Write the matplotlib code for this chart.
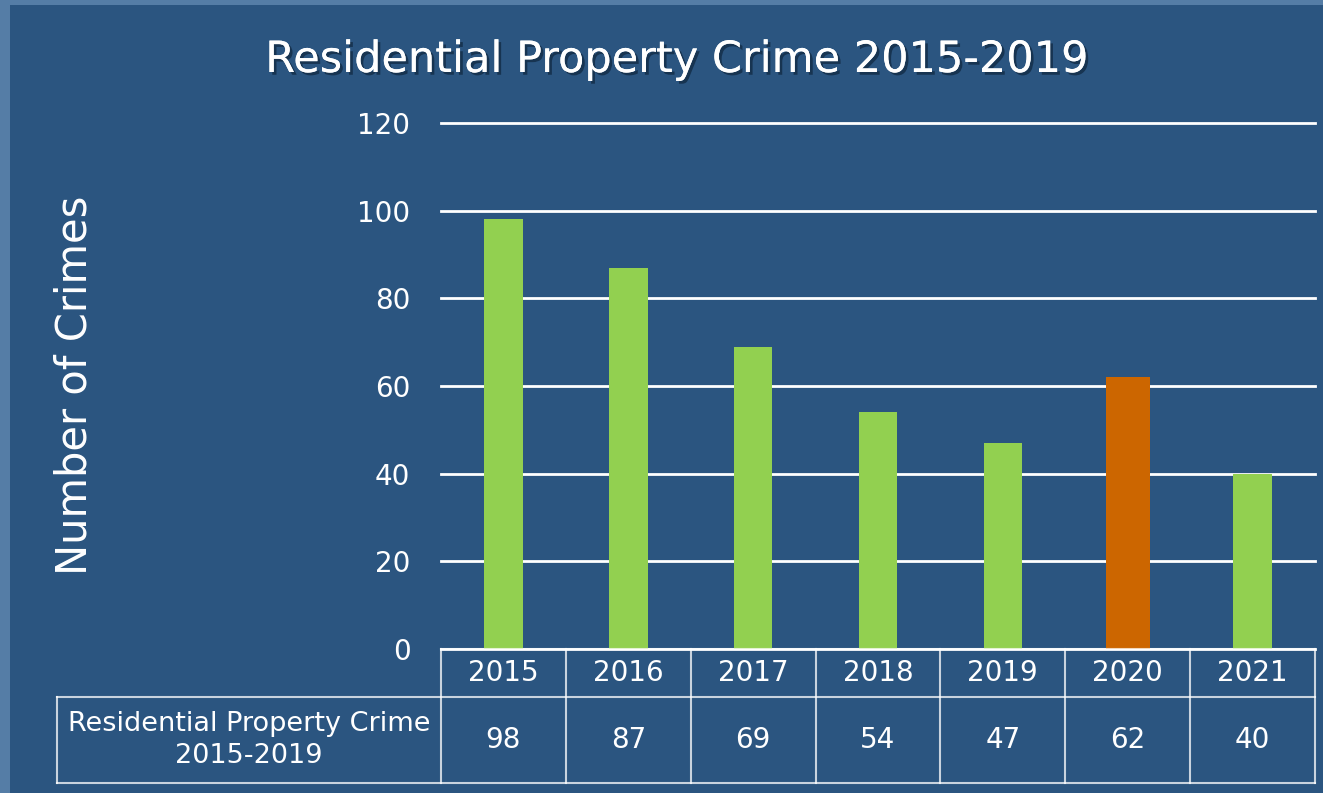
import matplotlib
matplotlib.use("Agg")
import matplotlib.pyplot as plt
import matplotlib.patheffects as pe
from matplotlib.patches import Rectangle

# Crime counts per year
years = ["2015", "2016", "2017", "2018", "2019", "2020", "2021"]
crimes = [98, 87, 69, 54, 47, 62, 40]
highlight_year = "2020"
series_name = "Residential Property Crime\n2015-2019"
title = "Residential Property Crime 2015-2019"
y_ticks = [0, 20, 40, 60, 80, 100, 120]

# Colours
panel_col = "#2B5580"
border_col = "#557DA6"
green = "#92D050"
orange = "#CC6600"
line_col = (1, 1, 1, 0.55)
table_col = (1, 1, 1, 0.75)

W, H = 1323, 793
fig = plt.figure(figsize=(W / 100, H / 100), dpi=100)
fig.patch.set_facecolor(border_col)
plt.rcParams['font.family'] = ['DejaVu Sans']

# Dark slide panel, with a thin lighter strip left and top
fig.patches.append(Rectangle((10 / W, 0), 1, 1 - 5 / H, transform=fig.transFigure,
                             facecolor=panel_col, edgecolor="none", zorder=-5))

# Plot area in pixels
x0, x1 = 441, 1315
y_bot, y_top = 649, 123
ax = fig.add_axes([x0 / W, 1 - y_bot / H, (x1 - x0) / W, (y_bot - y_top) / H])
ax.set_facecolor("none")

n = len(years)
colors = [orange if y == highlight_year else green for y in years]
widths = [0.35 if y == highlight_year else 0.31 for y in years]
ax.bar(range(n), crimes, width=widths, color=colors, zorder=3)

ax.set_xlim(-0.5, n - 0.5)
ax.set_ylim(0, 120)
ax.set_yticks(y_ticks)
ax.set_xticks([])
ax.tick_params(axis="y", length=0, pad=22, labelsize=20, labelcolor="white")
ax.grid(axis="y", color=line_col, linewidth=2, zorder=1)
for g in ax.get_ygridlines():
    g.set_clip_on(False)
for s in ax.spines.values():
    s.set_visible(False)

# Data table under the bars, drawn in data units
px_x = (x1 - x0) / n          # pixels per category
px_y = (y_bot - y_top) / 120  # pixels per crime
lab_left = -0.5 - (x0 - 57) / px_x
head_bot = -48 / px_y
row_bot = -134 / px_y
kw = dict(color=table_col, linewidth=1.5, clip_on=False, zorder=4)
ax.plot([-0.5, n - 0.5], [0, 0], **kw)
ax.plot([lab_left, n - 0.5], [head_bot, head_bot], **kw)
ax.plot([lab_left, n - 0.5], [row_bot, row_bot], **kw)
ax.plot([lab_left, lab_left], [head_bot, row_bot], **kw)
for k in range(n + 1):
    ax.plot([k - 0.5, k - 0.5], [0, row_bot], **kw)

for i, (y, c) in enumerate(zip(years, crimes)):
    ax.text(i, head_bot / 2, y, color="white", fontsize=20,
            ha="center", va="center", clip_on=False)
    ax.text(i, (head_bot + row_bot) / 2, str(c), color="white", fontsize=20,
            ha="center", va="center", clip_on=False)
ax.text((lab_left - 0.5) / 2, (head_bot + row_bot) / 2, series_name, color="white",
        fontsize=19.5, ha="center", va="center", linespacing=1.3, clip_on=False)

# Title and axis label
shadow = [pe.withSimplePatchShadow(offset=(2, -2), shadow_rgbFace="#0A1E33", alpha=0.6), pe.Normal()]
fig.text(676 / W, 1 - 60 / H, title, color="white", fontsize=31,
         ha="center", va="center", path_effects=shadow)
fig.text(75 / W, 1 - 385 / H, "Number of Crimes", color="white", fontsize=30,
         rotation=90, ha="center", va="center")

fig.savefig("out.png", dpi=100, facecolor=fig.get_facecolor())
